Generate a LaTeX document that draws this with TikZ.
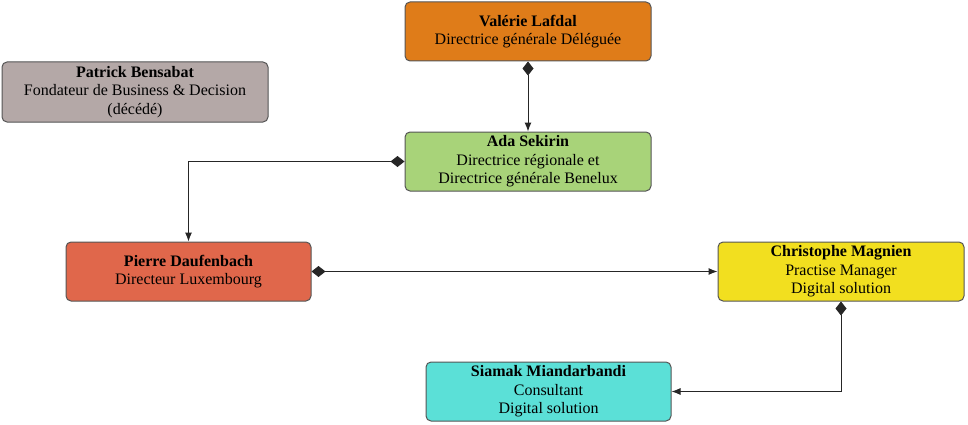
\documentclass[tikz,border=0pt]{standalone}
\usepackage{fontspec}
\setmainfont{Liberation Serif}
\usetikzlibrary{arrows.meta}
\definecolor{cOrange}{HTML}{DF7C19}
\definecolor{cGray}{HTML}{B4A8A7}
\definecolor{cGreen}{HTML}{A8D379}
\definecolor{cRed}{HTML}{E0674B}
\definecolor{cYellow}{HTML}{F2DF1F}
\definecolor{cCyan}{HTML}{5BE0D7}
\definecolor{cBorder}{HTML}{555555}
\tikzset{
  person/.style={draw=cBorder, line width=1pt, rounded corners=5pt, minimum width=246pt, minimum height=59pt, align=center, inner sep=0pt, font=\fontsize{16}{18.5}\selectfont},
  link/.style={draw=black!85, line width=1pt, {Diamond[length=14pt,width=11pt]}-{Latex[length=9pt,width=7pt]}}
}
\begin{document}
\begin{tikzpicture}[x=1pt,y=-1pt]
\useasboundingbox (0,0) rectangle (968,425);
\node[person, fill=cOrange] (val) at (528,31.5) {\textbf{Valérie Lafdal}\\Directrice générale Déléguée};
\node[person, fill=cGray, minimum width=266pt, minimum height=60pt] (pat) at (135,92) {\textbf{Patrick Bensabat}\\Fondateur de Business \& Decision\\(décédé)};
\node[person, fill=cGreen] (ada) at (528,161.5) {\textbf{Ada Sekirin}\\Directrice régionale et\\Directrice générale Benelux};
\node[person, fill=cRed, minimum width=245pt] (pie) at (188.5,271.5) {\textbf{Pierre Daufenbach}\\Directeur Luxembourg};
\node[person, fill=cYellow] (chr) at (841,271.5) {\textbf{Christophe Magnien}\\Practise Manager\\Digital solution};
\node[person, fill=cCyan, minimum width=245pt] (sia) at (548.5,391.5) {\textbf{Siamak Miandarbandi}\\Consultant\\Digital solution};
\draw[link] (val.south) -- (ada.north);
\draw[link] (ada.west) -| (pie.north);
\draw[link] (pie.east) -- (chr.west);
\draw[link] (chr.south) |- (sia.east);
\end{tikzpicture}
\end{document}
